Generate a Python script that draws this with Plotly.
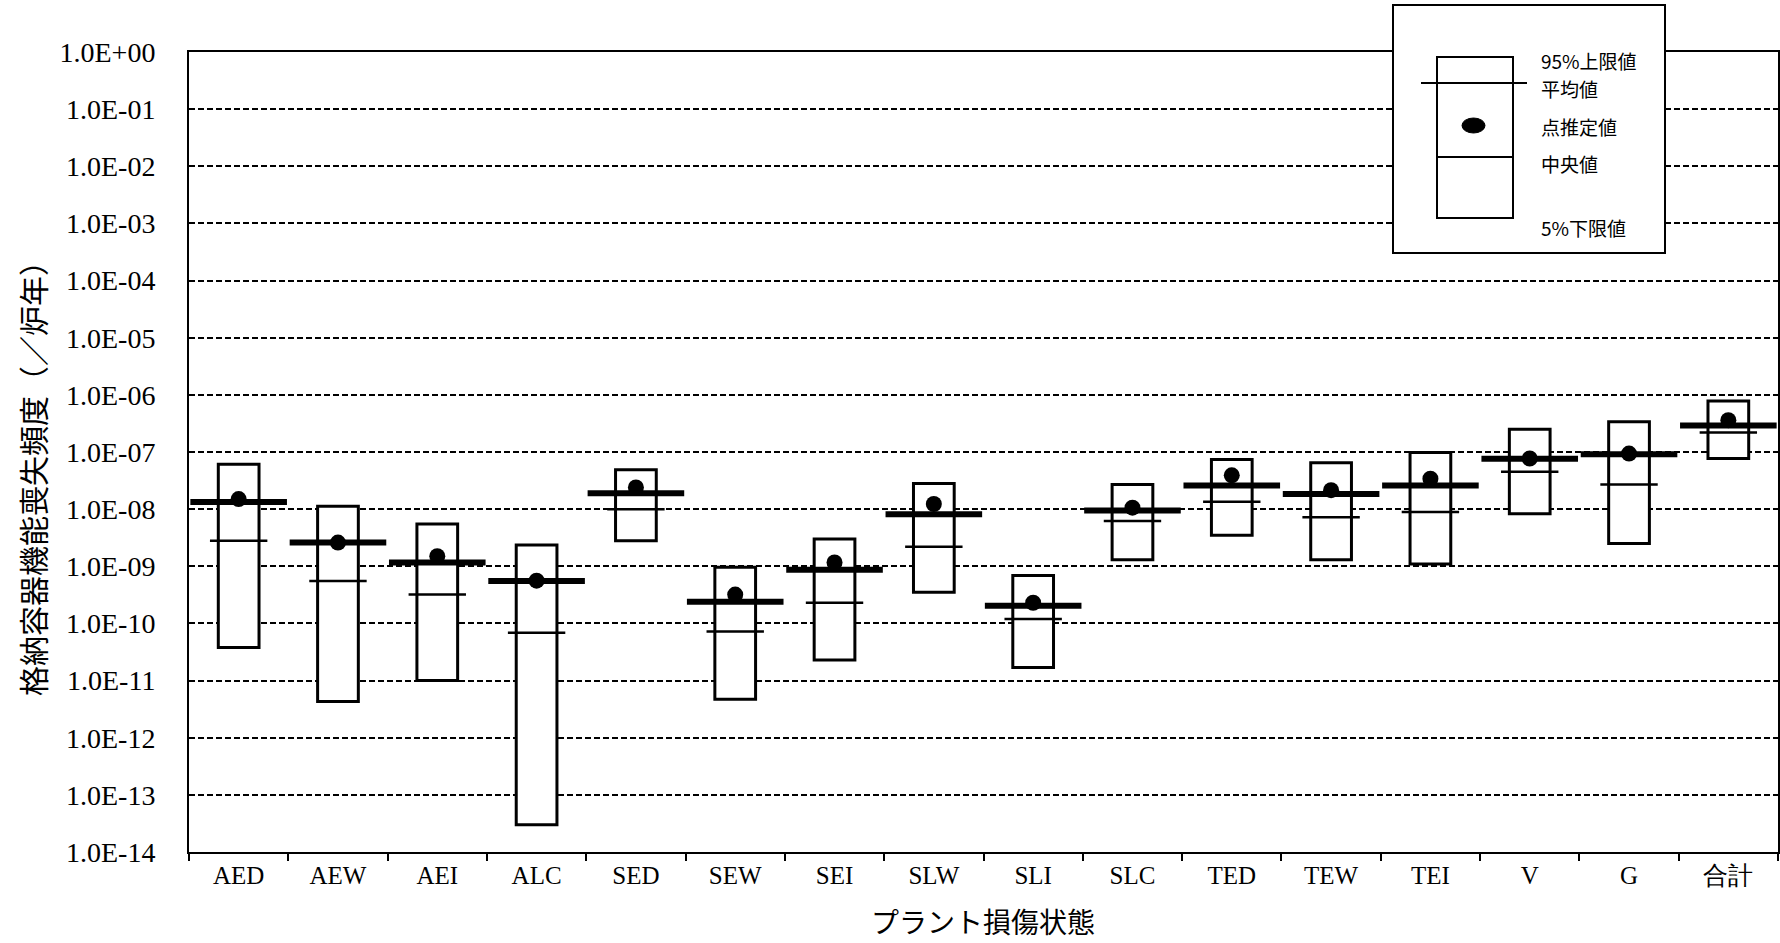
import plotly.graph_objects as go

categories = ["AED", "AEW", "AEI", "ALC", "SED", "SEW", "SEI", "SLW", "SLI",
              "SLC", "TED", "TEW", "TEI", "V", "G", "合計"]
upper95 = [6.1e-8, 1.12e-8, 5.5e-9, 2.35e-9, 4.9e-8, 9.6e-10, 3.0e-9, 2.8e-8, 6.9e-10,
           2.7e-8, 7.4e-8, 6.5e-8, 9.8e-8, 2.5e-7, 3.4e-7, 7.8e-7]
mean_vals = [1.33e-8, 2.6e-9, 1.17e-9, 5.5e-10, 1.9e-8, 2.4e-10, 8.7e-10, 8.1e-9, 2.04e-10,
             9.5e-9, 2.6e-8, 1.85e-8, 2.6e-8, 7.6e-8, 9.1e-8, 2.9e-7]
point_est = [1.5e-8, 2.6e-9, 1.5e-9, 5.6e-10, 2.4e-8, 3.2e-10, 1.17e-9, 1.23e-8, 2.3e-10,
             1.06e-8, 3.9e-8, 2.15e-8, 3.4e-8, 7.7e-8, 9.4e-8, 3.6e-7]
median_vals = [2.8e-9, 5.5e-10, 3.2e-10, 6.9e-11, 1.0e-8, 7.2e-11, 2.3e-10, 2.2e-9, 1.2e-10,
               6.2e-9, 1.35e-8, 7.2e-9, 8.9e-9, 4.5e-8, 2.7e-8, 2.2e-7]
lower5 = [3.8e-11, 4.3e-12, 1.0e-11, 3.0e-14, 2.8e-9, 4.7e-12, 2.3e-11, 3.5e-10, 1.7e-11,
          1.3e-9, 3.5e-9, 1.3e-9, 1.1e-9, 8.3e-9, 2.5e-9, 7.7e-8]
y_exponents = list(range(0, -15, -1))
y_tick_labels = ["1.0E+00"] + ["1.0E-%02d" % (-e) for e in y_exponents[1:]]
legend_labels = ["95%上限値", "平均値", "点推定値", "中央値", "5%下限値"]

W, H = 1780, 943
L, R, T, B = 189, 2, 52, 91
PW, PH = W - L - R, H - T - B

def px(x):
    return (x - L) / PW

def py(y):
    return (H - B - y) / PH

SERIF = "Liberation Serif"
CJK = "Noto Sans CJK JP"

fig = go.Figure()

# 5%-95% boxes
fig.add_trace(go.Bar(
    x=categories,
    y=[u - l for u, l in zip(upper95, lower5)],
    base=lower5,
    width=0.41,
    marker=dict(color="white", line=dict(color="black", width=3)),
    showlegend=False, hoverinfo="skip",
))
# median
fig.add_trace(go.Scatter(
    x=categories, y=median_vals, mode="markers",
    marker=dict(symbol="line-ew", size=41, line=dict(color="black", width=2.5)),
    showlegend=False, hoverinfo="skip",
))
# point estimate
fig.add_trace(go.Scatter(
    x=categories, y=point_est, mode="markers",
    marker=dict(symbol="circle", size=16, color="black"),
    showlegend=False, hoverinfo="skip",
))
# mean
fig.add_trace(go.Scatter(
    x=categories, y=mean_vals, mode="markers",
    marker=dict(symbol="line-ew", size=69, line=dict(color="black", width=6)),
    showlegend=False, hoverinfo="skip",
))

fig.update_layout(
    width=W, height=H,
    margin=dict(l=L, r=R, t=T, b=B, autoexpand=False),
    paper_bgcolor="white", plot_bgcolor="white",
    barmode="overlay",
    showlegend=False,
)
fig.update_xaxes(
    type="category", range=[-0.5, len(categories) - 0.5], automargin=False,
    tickson="boundaries", ticks="outside", ticklen=7, tickwidth=2, tickcolor="black",
    showline=True, linecolor="black", linewidth=2, mirror=True,
    showgrid=False,
    tickfont=dict(family=SERIF, size=25, color="black"),
)
fig.update_yaxes(
    type="log", range=[-14, 0], automargin=False,
    tickvals=[10.0 ** e for e in y_exponents], ticktext=y_tick_labels,
    ticks="", ticklabelstandoff=26,
    showline=True, linecolor="black", linewidth=2, mirror=True,
    showgrid=True, gridcolor="black", gridwidth=1.5, griddash="6px,3px",
    zeroline=False,
    tickfont=dict(family=SERIF, size=28, color="black"),
)

# axis titles
fig.add_annotation(text="プラント損傷状態", xref="paper", yref="paper",
                   x=px(983), y=py(921), showarrow=False,
                   font=dict(family=CJK, size=28, color="black"),
                   xanchor="center", yanchor="middle")
fig.add_annotation(text="格納容器機能喪失頻度（／炉年）", xref="paper", yref="paper",
                   x=px(32), y=py(471), showarrow=False, textangle=-90,
                   font=dict(family=CJK, size=30, color="black"),
                   xanchor="center", yanchor="middle")

# legend drawing
shapes = []
shapes.append(dict(type="rect", xref="paper", yref="paper",
                   x0=px(1393), x1=px(1665), y0=py(253), y1=py(5),
                   line=dict(color="black", width=2), fillcolor="white", layer="above"))
shapes.append(dict(type="rect", xref="paper", yref="paper",
                   x0=px(1437), x1=px(1513), y0=py(218), y1=py(57),
                   line=dict(color="black", width=2), fillcolor="white", layer="above"))
shapes.append(dict(type="line", xref="paper", yref="paper",
                   x0=px(1421), x1=px(1527), y0=py(83), y1=py(83),
                   line=dict(color="black", width=2), layer="above"))
shapes.append(dict(type="line", xref="paper", yref="paper",
                   x0=px(1437), x1=px(1513), y0=py(157), y1=py(157),
                   line=dict(color="black", width=2), layer="above"))
shapes.append(dict(type="circle", xref="paper", yref="paper",
                   x0=px(1462), x1=px(1485), y0=py(133), y1=py(118),
                   line=dict(color="black", width=1), fillcolor="black", layer="above"))
fig.update_layout(shapes=shapes)

for label, ypix in zip(legend_labels, [61, 88, 126, 163, 228]):
    fig.add_annotation(text=label, xref="paper", yref="paper",
                       x=px(1539), y=py(ypix), showarrow=False,
                       font=dict(family=CJK, size=19, color="black"),
                       xanchor="left", yanchor="middle")

fig.write_html(
    "out.html",
    config={"displayModeBar": False},
    post_script="document.body.style.margin='0';document.body.style.overflow='hidden';",
)
